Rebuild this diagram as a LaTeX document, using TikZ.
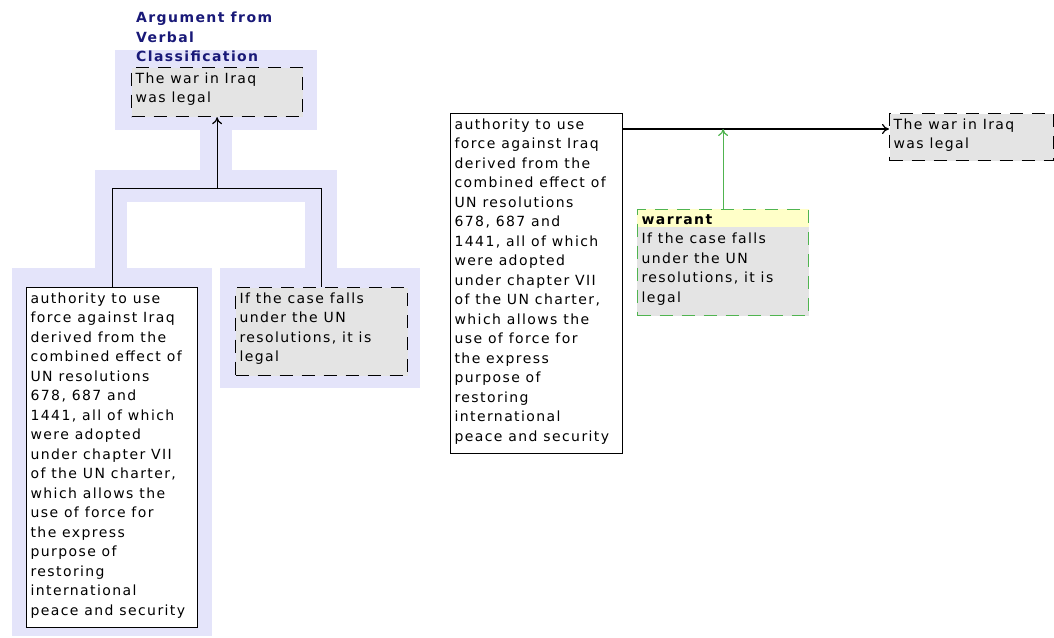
\documentclass[tikz,border=0pt]{standalone}
\usepackage{fontspec}
\setmainfont{DejaVu Sans}[LetterSpace=10]
\usetikzlibrary{arrows.meta,positioning,backgrounds}

\definecolor{lav}{RGB}{228,228,250}
\definecolor{boxgray}{RGB}{228,228,228}
\definecolor{wgreen}{RGB}{80,180,80}
\definecolor{hdryellow}{RGB}{255,255,200}
\definecolor{titleblue}{RGB}{25,25,120}

\newcommand{\boxtext}[3]{\parbox[t][#2][t]{#1}{\raggedright #3}}

\begin{document}
\begin{tikzpicture}[x=1pt, y=-1pt, >={To[length=7pt,width=10pt]},
  stmt/.style  = {draw, line width=1.2pt, anchor=north west, inner xsep=4pt, inner ysep=5pt,
                  fill=white, font=\fontsize{14}{19.5}\selectfont},
  claim/.style = {stmt, fill=boxgray, dash pattern=on 13pt off 9pt},
  wbox/.style  = {claim, draw=wgreen, fill=none},
  title/.style = {font=\bfseries\fontsize{14}{19.5}\selectfont, text=titleblue,
                  anchor=south west, inner sep=0pt, align=left},
  link/.style  = {line width=1.2pt},
]
\useasboundingbox (0,0) rectangle (1054,637);

% highlighted argument (left)
\fill[lav] (115,50) rectangle (317,130);
\fill[lav] (200,130) rectangle (232,170);
\fill[lav] (95,170) rectangle (337,202);
\fill[lav] (95,202) rectangle (127,268);
\fill[lav] (305,202) rectangle (337,268);
\fill[lav] (12,268) rectangle (212,636);
\fill[lav] (220,268) rectangle (420,388);

\node[claim] (conc1) at (131,67)
  {\boxtext{163pt}{39pt}{The war in Iraq\\was legal}};
\node[title] (ttl) at ([xshift=5pt,yshift=5pt]conc1.north west)
  {Argument from\\Verbal\\Classification};
\node[stmt] (prem1) at (26,287)
  {\boxtext{163pt}{330pt}{authority to use\\force against Iraq\\derived from the\\combined effect of\\UN resolutions\\678, 687 and\\1441, all of which\\were adopted\\under chapter VII\\of the UN charter,\\which allows the\\use of force for\\the express\\purpose of\\restoring\\international\\peace and security}};
\node[claim] (warr1) at (235,287)
  {\boxtext{164pt}{78pt}{If the case falls\\under the UN\\resolutions, it is\\legal}};

\coordinate (j) at ([yshift=-71pt]conc1.south);
\draw[link] (prem1.north) |- (j) -| (warr1.north);
\draw[link,->] (j) -- (conc1.south);

% diagram view (right)
\node[stmt] (prem2) at (450,113)
  {\boxtext{164pt}{330pt}{authority to use\\force against Iraq\\derived from the\\combined effect of\\UN resolutions\\678, 687 and\\1441, all of which\\were adopted\\under chapter VII\\of the UN charter,\\which allows the\\use of force for\\the express\\purpose of\\restoring\\international\\peace and security}};
\node[claim] (conc2) at (889,113)
  {\boxtext{156pt}{37pt}{The war in Iraq\\was legal}};
\node[wbox] (warr2) at (637,209)
  {\boxtext{163pt}{96pt}{\textbf{warrant}\\If the case falls\\under the UN\\resolutions, it is\\legal}};
\begin{scope}[on background layer]
  \fill[boxgray] (warr2.north west) rectangle (warr2.south east);
  \fill[hdryellow] (warr2.north west) rectangle ([yshift=-18pt]warr2.north east);
\end{scope}

\coordinate (r) at ([yshift=-16pt]prem2.north east);
\draw[link,->] (r) -- (r -| conc2.west);
\draw[link,wgreen,->] (warr2.north) -- (warr2.north |- r);
\end{tikzpicture}
\end{document}
